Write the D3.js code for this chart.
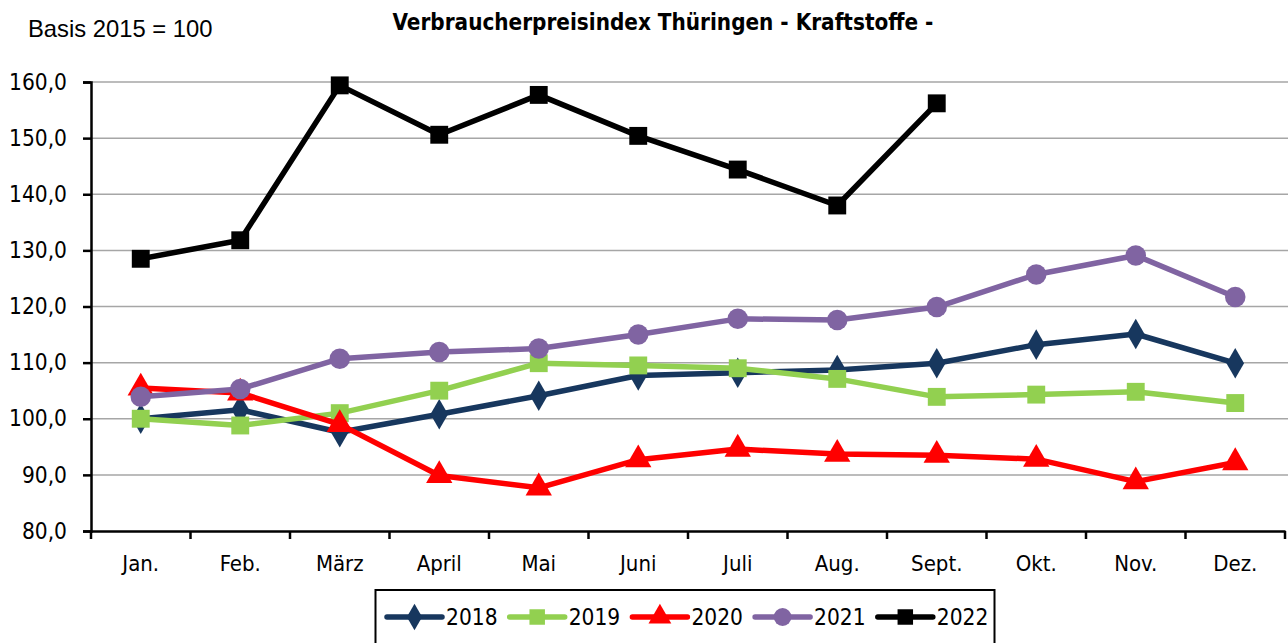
<!DOCTYPE html>
<html><head><meta charset="utf-8">
<script src="https://cdn.jsdelivr.net/npm/d3@7"></script>
<style>body{margin:0;background:#fff}svg{display:block}</style>
</head><body>
<svg id="c" width="1288" height="643"></svg>
<script>
const months = ["Jan.","Feb.","März","April","Mai","Juni","Juli","Aug.","Sept.","Okt.","Nov.","Dez."];
const yTicks = [80,90,100,110,120,130,140,150,160];
const v2018 = [100.0,101.6,97.6,100.8,104.1,107.7,108.2,108.7,109.9,113.2,115.1,109.9];
const v2019 = [100.0,98.8,101.0,105.0,109.9,109.5,109.0,107.1,103.9,104.3,104.8,102.8];
const v2020 = [105.5,104.6,99.0,89.9,87.7,92.7,94.6,93.7,93.5,92.8,88.8,92.2];
const v2021 = [103.9,105.3,110.7,111.9,112.5,115.0,117.8,117.6,119.9,125.7,129.1,121.7];
const v2022 = [128.5,131.8,159.4,150.6,157.7,150.4,144.4,138.0,156.2];
const seriesNames = ["2018","2019","2020","2021","2022"];
const seriesValues = [v2018,v2019,v2020,v2021,v2022];
const colors = ["#17375e","#92d050","#ff0000","#8064a2","#000000"];
const shapes = [d3.symbolDiamond,d3.symbolSquare,d3.symbolTriangle,d3.symbolCircle,d3.symbolSquare];
const sizes = [270,320,300,330,320];

const svg = d3.select("#c");
const L=91, R=1285, T=82, B=531;
const x = d3.scaleBand().domain(months).range([L,R]);
const y = d3.scaleLinear().domain([80,160]).range([B,T]);
const cond = "'DejaVu Sans Condensed','DejaVu Sans',sans-serif";

// gridlines
svg.append("g").selectAll("line").data(yTicks.slice(1)).join("line")
  .attr("x1",L).attr("x2",1288).attr("y1",d=>y(d)).attr("y2",d=>y(d))
  .attr("stroke","#a6a6a6").attr("stroke-width",1.5);

// y axis
const ya = svg.append("g").attr("transform",`translate(${L},0)`)
  .call(d3.axisLeft(y).tickValues(yTicks).tickSize(8).tickPadding(16)
    .tickFormat(d=>d3.format(".1f")(d).replace(".",",")));
ya.select(".domain").attr("stroke","#000").attr("stroke-width",2.5);
ya.selectAll(".tick line").attr("stroke","#000").attr("stroke-width",2.5);
ya.selectAll("text").attr("font-family",cond).attr("font-size",22.5).attr("fill","#000");

// x axis
const xa = svg.append("g").attr("transform",`translate(0,${B})`)
  .call(d3.axisBottom(x).tickSize(0).tickPadding(24));
xa.select(".domain").attr("stroke","#000").attr("stroke-width",2.5);
xa.selectAll("text").attr("font-family",cond).attr("font-size",22).attr("fill","#000");
// boundary ticks
svg.append("g").selectAll("line").data(d3.range(months.length+1)).join("line")
  .attr("x1",i=>L+i*x.step()).attr("x2",i=>L+i*x.step())
  .attr("y1",B).attr("y2",B+8).attr("stroke","#000").attr("stroke-width",2.5);

// series
const line = d3.line().x((d,i)=>x(months[i])+x.bandwidth()/2).y(d=>y(d));
seriesValues.forEach((vals,k)=>{
  const g = svg.append("g");
  g.append("path").datum(vals).attr("d",line).attr("fill","none")
    .attr("stroke",colors[k]).attr("stroke-width",5.5).attr("stroke-linejoin","round");
  g.selectAll("path.m").data(vals).join("path").attr("class","m")
    .attr("d",d3.symbol().type(shapes[k]).size(sizes[k]))
    .attr("transform",(d,i)=>`translate(${x(months[i])+x.bandwidth()/2},${y(d)})`)
    .attr("fill",colors[k]);
});

// title
svg.append("text").attr("x",663).attr("y",30).attr("text-anchor","middle")
  .attr("font-family",cond).attr("font-weight","bold").attr("font-size",22.3)
  .text("Verbraucherpreisindex Thüringen - Kraftstoffe -");
svg.append("text").attr("x",28).attr("y",37)
  .attr("font-family","'Liberation Sans',Arial,sans-serif").attr("font-size",23.8)
  .text("Basis 2015 = 100");

// legend
const lg = svg.append("g");
lg.append("rect").attr("x",375.5).attr("y",590).attr("width",619).attr("height",60)
  .attr("fill","#fff").attr("stroke","#000").attr("stroke-width",2);
seriesNames.forEach((n,k)=>{
  const x0 = 387 + k*122.7, cy = 617;
  lg.append("line").attr("x1",x0).attr("x2",x0+55).attr("y1",cy).attr("y2",cy)
    .attr("stroke",colors[k]).attr("stroke-width",5.5).attr("stroke-linecap","round");
  lg.append("path").attr("d",d3.symbol().type(shapes[k]).size(sizes[k]*0.75))
    .attr("transform",`translate(${x0+27.5},${cy})`).attr("fill",colors[k]);
  lg.append("text").attr("x",x0+59).attr("y",cy+8).attr("font-family",cond)
    .attr("font-size",22.5).text(n);
});
</script>
</body></html>
